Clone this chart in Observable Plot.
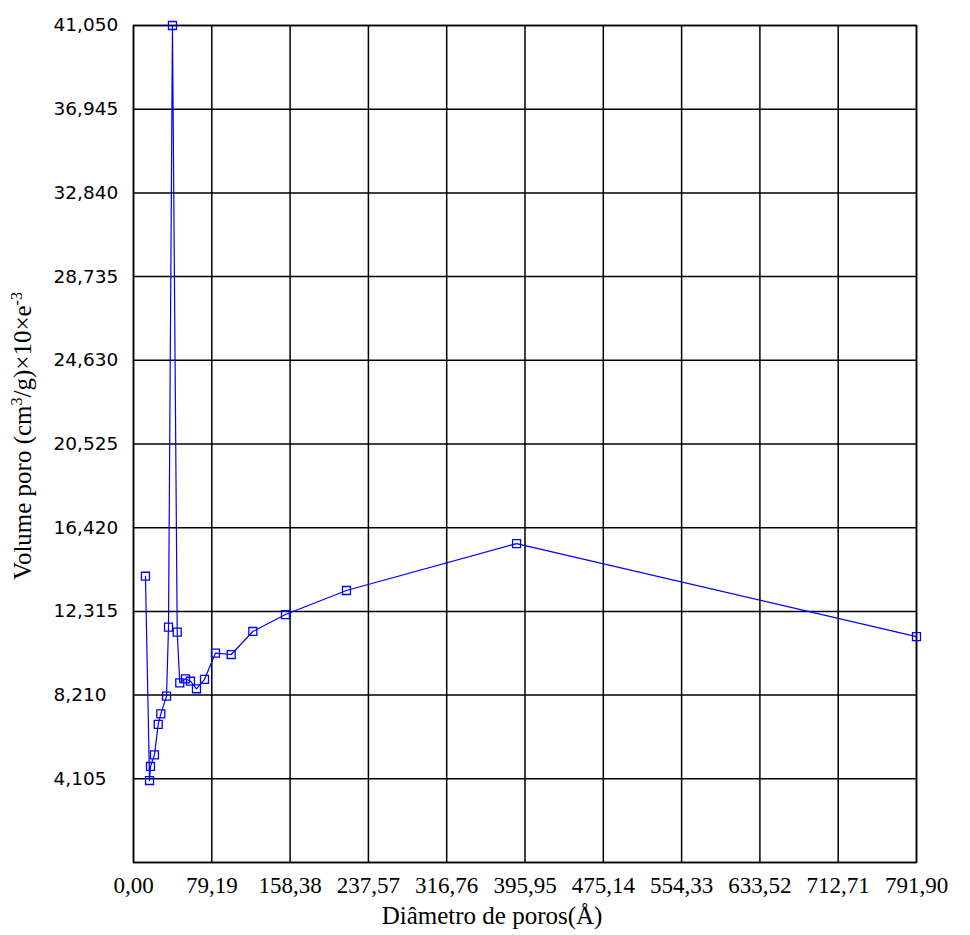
<!DOCTYPE html>
<html><head><meta charset="utf-8">
<script src="https://cdn.jsdelivr.net/npm/d3@7"></script>
<script src="https://cdn.jsdelivr.net/npm/@observablehq/plot@0.6"></script>
<style>body{margin:0;background:#fff}</style>
</head><body><div id="chart"></div>
<script>
const diameter = [12.1, 16.2, 17.2, 21.2, 25.0, 27.6, 33.4, 35.4, 39.4, 44.2, 46.8, 52.6, 57.6, 63.7, 71.8, 82.9, 98.8, 120.7, 153.7, 215.4, 387.4, 791.9];
const volume   = [14.04, 4.02, 4.71, 5.28, 6.77, 7.29, 8.16, 11.54, 41.05, 11.30, 8.81, 9.01, 8.89, 8.52, 8.98, 10.27, 10.20, 11.33, 12.16, 13.34, 15.64, 11.08];
const xTicks = [0, 79.19, 158.38, 237.57, 316.76, 395.95, 475.14, 554.33, 633.52, 712.71, 791.90];
const xTickLabels = ["0,00","79,19","158,38","237,57","316,76","395,95","475,14","554,33","633,52","712,71","791,90"];
const yTicks = [0, 4.105, 8.21, 12.315, 16.42, 20.525, 24.63, 28.735, 32.84, 36.945, 41.05];
const yTickLabels = ["", "4,105","8,210","12,315","16,420","20,525","24,630","28,735","32,840","36,945","41,050"];
const xTitle = "Diâmetro de poros(Å)";
const yTitle = "Volume poro (cm3/g)×10×e-3";

const data = diameter.map((d, i) => ({x: d, y: volume[i]}));
const yLab = yTicks.map((v, i) => ({v, t: yTickLabels[i]})).filter(d => d.t);

const chart = Plot.plot({
  width: 970, height: 935,
  marginLeft: 133, marginRight: 54, marginTop: 25, marginBottom: 73,
  style: {background: "white", color: "black", fontFamily: "Liberation Serif"},
  x: {domain: [0, 791.9], axis: null},
  y: {domain: [0, 41.05], axis: null},
  marks: [
    Plot.gridX(xTicks, {stroke: "#000", strokeOpacity: 1, strokeWidth: 1.5}),
    Plot.gridY(yTicks, {stroke: "#000", strokeOpacity: 1, strokeWidth: 1.5}),
    Plot.frame({stroke: "#000", strokeWidth: 1.5}),
    Plot.line(data, {x: "x", y: "y", stroke: "#0000ff", strokeWidth: 1.2}),
    Plot.dot(data, {x: "x", y: "y", symbol: "square", r: 4.5, stroke: "#0000ff", fill: "none", strokeWidth: 1.3}),
    Plot.text(xTicks, {x: d => d, text: d => xTickLabels[xTicks.indexOf(d)], frameAnchor: "bottom", dy: 30, fontSize: 23, fill: "#000", fontFamily: "Liberation Serif"}),
    Plot.text(yLab, {y: "v", text: "t", frameAnchor: "left", dx: -80, textAnchor: "start", fontSize: 18.5, fill: "#000", fontFamily: "DejaVu Sans"}),
    Plot.text([xTitle], {frameAnchor: "bottom", dx: -33, dy: 61, fontSize: 25, fill: "#000", fontFamily: "Liberation Serif"}),
    Plot.text([yTitle], {frameAnchor: "left", dx: -111, dy: -8, rotate: -90, textAnchor: "middle", fontSize: 25, fill: "#000", fontFamily: "Liberation Serif"})
  ]
});
document.getElementById("chart").append(chart);
d3.select(chart).selectAll("text").filter(function(){ return this.textContent === yTitle; })
  .html('Volume poro (cm<tspan dy="-9" font-size="16">3</tspan><tspan dy="9">/g)×10×e</tspan><tspan dy="-9" font-size="16">-3</tspan>');
</script></body></html>
